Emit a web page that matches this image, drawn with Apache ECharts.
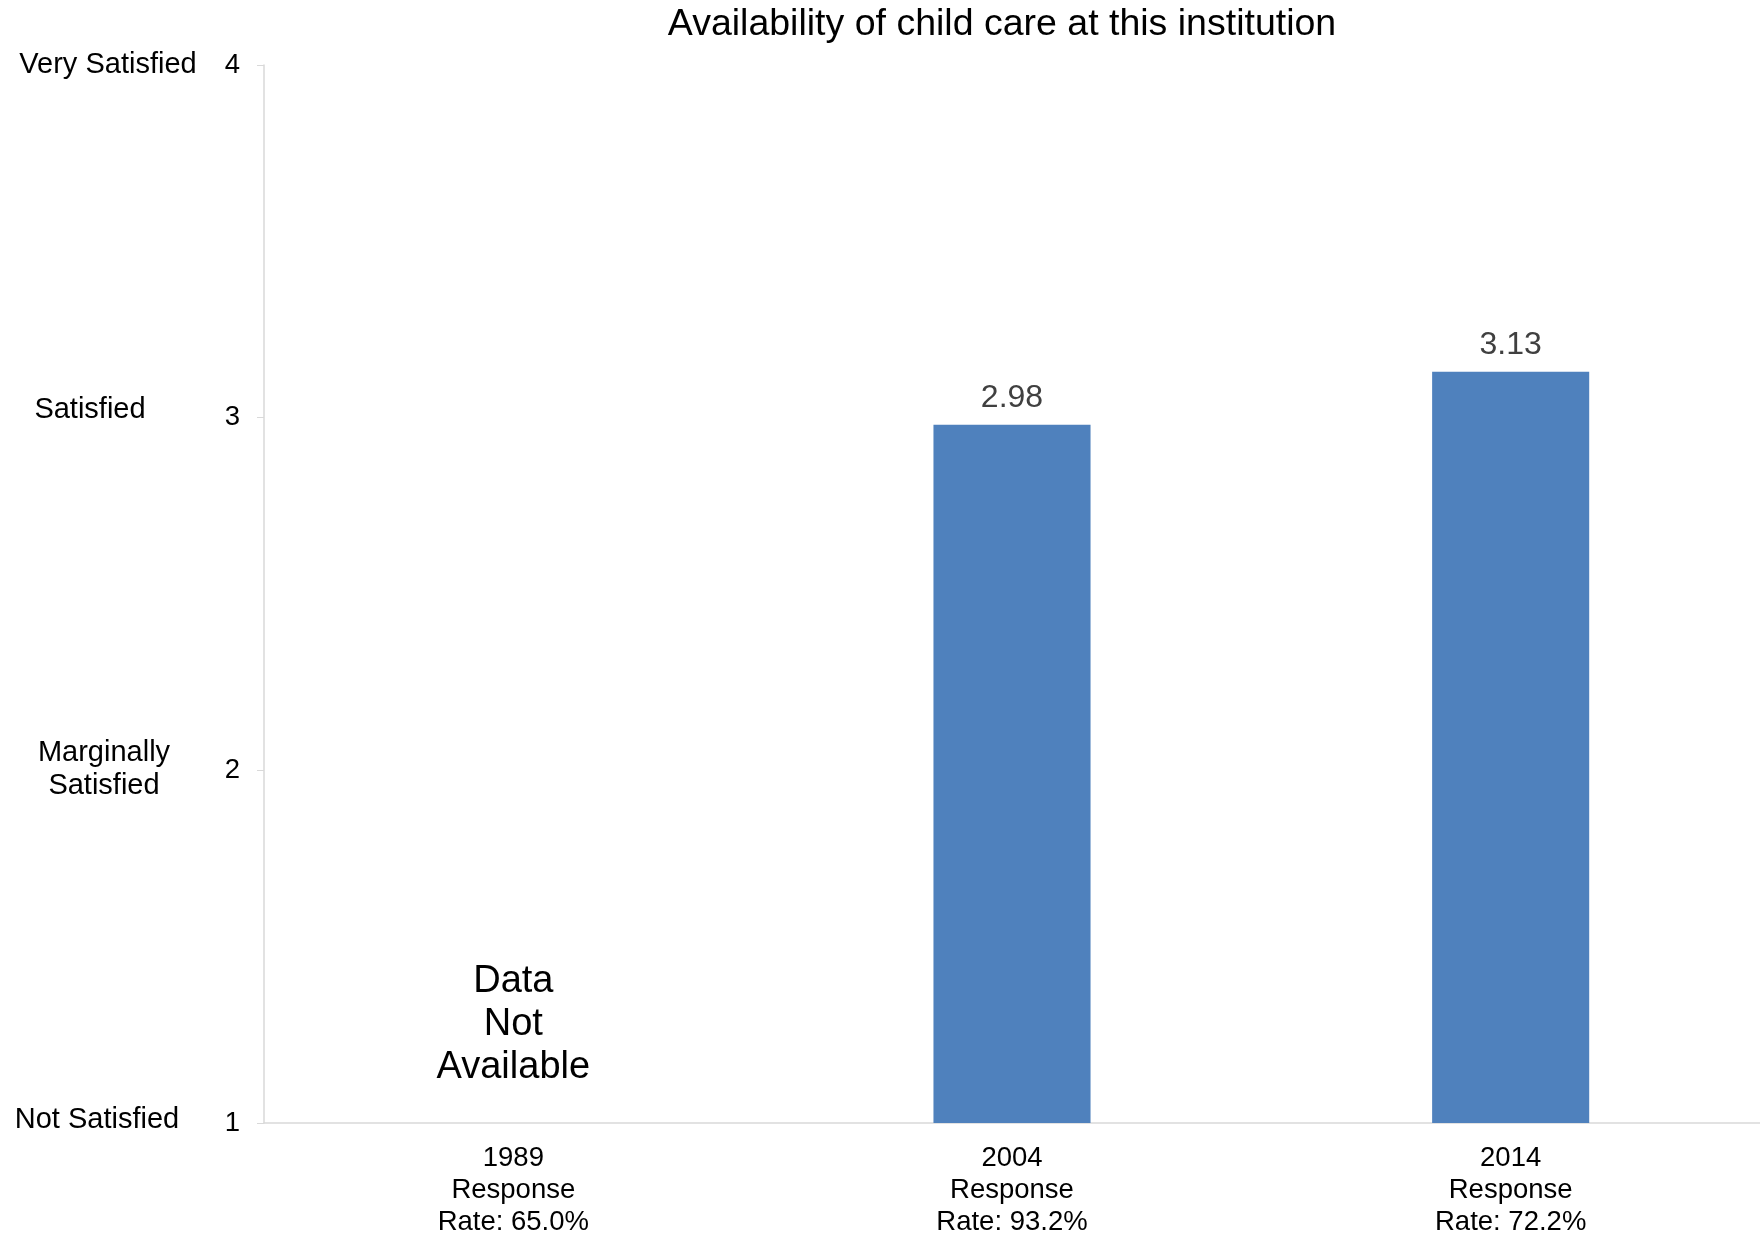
<!DOCTYPE html>
<html><head><meta charset="utf-8">
<script src="https://cdn.jsdelivr.net/npm/echarts@6/dist/echarts.min.js"></script>
<style>html,body{margin:0;padding:0;background:#fff}#c{width:1760px;height:1238px}</style>
</head><body><div id="c"></div>
<script>
const titleText = 'Availability of child care at this institution';
const categories = ['1989\nResponse\nRate: 65.0%', '2004\nResponse\nRate: 93.2%', '2014\nResponse\nRate: 72.2%'];
const values = [null, 2.98, 3.13];
const scaleNames = {1: 'Not Satisfied', 2: 'Marginally\nSatisfied', 3: 'Satisfied', 4: 'Very Satisfied'};
const missingNote = 'Data\nNot\nAvailable';
const missingIndex = 0;
const noteValue = 1.28;

const font = '"Liberation Sans", Arial, sans-serif';
const nameStyle = (dx, dy) => ({fontFamily: font, fontSize: 29, color: '#000', lineHeight: 33,
  padding: [Math.max(0, dy) * 2, Math.max(0, -dx) * 2, Math.max(0, -dy) * 2, Math.max(0, dx) * 2]});
const richKeys = {1: 'n1', 2: 'n2', 3: 'n3', 4: 'n4'};
const chart = echarts.init(document.getElementById('c'));
chart.setOption({
  animation: false,
  title: {text: titleText, left: 997, top: 1, textAlign: 'center',
    textStyle: {fontFamily: font, fontSize: 37.5, fontWeight: 'normal', color: '#000'}},
  grid: {left: 264, right: 0, top: 65, bottom: 112.5},
  xAxis: {type: 'category', data: categories,
    axisLine: {show: true, lineStyle: {color: '#d9d9d9', width: 1.5}},
    axisTick: {show: false},
    axisLabel: {fontFamily: font, fontSize: 27.5, color: '#000', lineHeight: 32, margin: 19}},
  yAxis: [{type: 'value', min: 1, max: 4, interval: 1,
    axisLine: {show: true, lineStyle: {color: '#d9d9d9', width: 1.5}},
    axisTick: {show: true, inside: false, length: 7, lineStyle: {color: '#d9d9d9'}},
    splitLine: {show: false},
    axisLabel: {fontFamily: font, fontSize: 27.5, color: '#000', margin: 24}},
  {type: 'value', min: 1, max: 4, interval: 1, position: 'left', offset: 164,
    axisLine: {show: false}, axisTick: {show: false}, splitLine: {show: false},
    axisLabel: {fontFamily: font, fontSize: 29, color: '#000', margin: 0, align: 'center', lineHeight: 33,
      formatter: v => scaleNames[v] ? scaleNames[v].split('\n').map(s => '{' + richKeys[v] + '|' + s + '}').join('\n') : '',
      rich: {n1: nameStyle(-3, -3), n2: nameStyle(4, -1), n3: nameStyle(-10, -8), n4: nameStyle(8, 0)}}}],
  series: [{type: 'bar', data: values, barWidth: '31.5%',
    itemStyle: {color: '#4f81bd'},
    label: {show: true, position: 'top', distance: 11, fontFamily: font, fontSize: 32, color: '#404040',
      formatter: p => p.value.toFixed(2)},
    markPoint: {symbol: 'circle', symbolSize: 0,
      data: [{coord: [missingIndex, noteValue], value: 0}],
      label: {show: true, position: 'inside', formatter: missingNote, fontFamily: font, fontSize: 38,
        color: '#000', lineHeight: 43, align: 'center', verticalAlign: 'middle'}}
  }]
});
</script></body></html>
